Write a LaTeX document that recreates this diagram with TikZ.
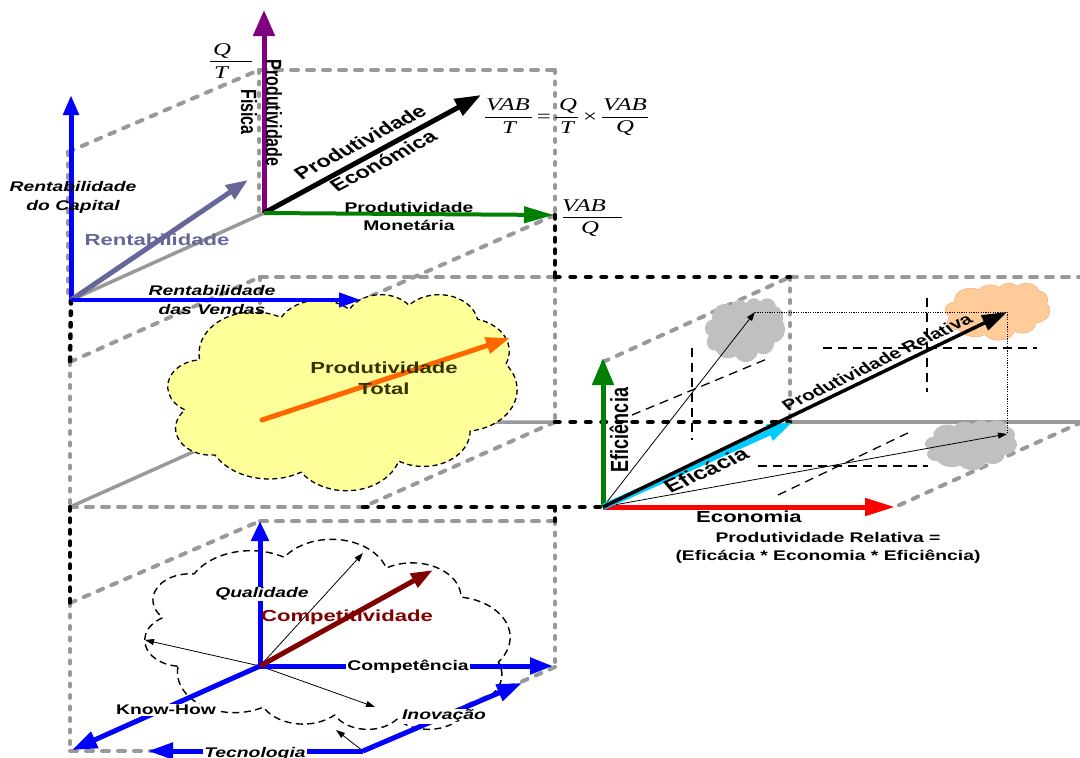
\documentclass[tikz,border=0pt]{standalone}
\usepackage{fontspec}
\setmainfont{Liberation Sans}
\newfontfamily\tnr{Liberation Serif}
\usetikzlibrary{arrows.meta}
\definecolor{gry}{RGB}{153,153,153}
\definecolor{pur}{RGB}{128,0,128}
\definecolor{blu}{RGB}{0,0,255}
\definecolor{slate}{RGB}{102,102,153}
\definecolor{grn}{RGB}{0,128,0}
\definecolor{org}{RGB}{255,102,0}
\definecolor{ylw}{RGB}{255,255,153}
\definecolor{olive}{RGB}{51,51,0}
\definecolor{rd}{RGB}{255,0,0}
\definecolor{cyn}{RGB}{0,204,255}
\definecolor{dred}{RGB}{128,0,0}
\definecolor{silv}{RGB}{192,192,192}
\definecolor{peach}{RGB}{255,204,153}
\definecolor{peachline}{RGB}{240,180,130}
% PowerPoint cloud: arcs with visual angles converted to parametric ones
\newcommand\cldarc[5]{%
  \pgfmathsetmacro\cldtmpa{atan2((#2)*sin(#4),(#3)*cos(#4))}%
  \pgfmathsetmacro\cldtmpb{atan2((#2)*sin((#4)+(#5)),(#3)*cos((#4)+(#5)))}%
  \pgfmathsetmacro\cldtmpd{mod(\cldtmpb-(\cldtmpa)+720,360)}%
  \expandafter\xdef\csname cldS#1\endcsname{\cldtmpa}%
  \expandafter\xdef\csname cldD#1\endcsname{\cldtmpd}%
}
\cldarc{a}{6.753}{9.190}{-190.4875}{123.7805}
\cldarc{b}{5.333}{7.267}{-144.1024}{89.9452}
\cldarc{c}{4.365}{5.945}{-145.8079}{99.7230}
\cldarc{d}{4.857}{6.595}{-130.9861}{117.2417}
\cldarc{e}{5.333}{7.273}{-78.7089}{109.0269}
\cldarc{f}{6.775}{9.220}{-46.2673}{130.2690}
\cldarc{g}{5.785}{7.867}{0.6250}{114.0333}
\cldarc{h}{6.752}{9.215}{22.4516}{115.1726}
\cldarc{i}{7.720}{10.543}{66.2426}{75.7110}
\cldarc{j}{4.360}{5.918}{-274.9421}{146.7356}
\cldarc{k}{4.345}{5.945}{-246.8285}{152.5189}
\newcommand\cloudbody[1]{\path[#1] (3.9,14.37)
  arc[x radius=6.753,y radius=9.19,start angle=\cldSa,delta angle=\cldDa]
  arc[x radius=5.333,y radius=7.267,start angle=\cldSb,delta angle=\cldDb]
  arc[x radius=4.365,y radius=5.945,start angle=\cldSc,delta angle=\cldDc]
  arc[x radius=4.857,y radius=6.595,start angle=\cldSd,delta angle=\cldDd]
  arc[x radius=5.333,y radius=7.273,start angle=\cldSe,delta angle=\cldDe]
  arc[x radius=6.775,y radius=9.22,start angle=\cldSf,delta angle=\cldDf]
  arc[x radius=5.785,y radius=7.867,start angle=\cldSg,delta angle=\cldDg]
  arc[x radius=6.752,y radius=9.215,start angle=\cldSh,delta angle=\cldDh]
  arc[x radius=7.72,y radius=10.543,start angle=\cldSi,delta angle=\cldDi]
  arc[x radius=4.36,y radius=5.918,start angle=\cldSj,delta angle=\cldDj]
  arc[x radius=4.345,y radius=5.945,start angle=\cldSk,delta angle=\cldDk]
  -- cycle;}
\newcommand\ppcloud[5]{\begin{scope}[shift={(#2,#3)},xscale=#4/43.2,yscale=#5/43.2]\cloudbody{#1}\end{scope}}
\newcommand\ppcloudv[5]{\begin{scope}[shift={(#2,#3+#5)},xscale=#4/43.2,yscale=-#5/43.2]\cloudbody{#1}\end{scope}}

\begin{document}
\begin{tikzpicture}[x=1pt,y=-1pt,line join=round,
  gd/.style={gry,line width=4pt,line cap=round,dash pattern=on 7pt off 9pt},
  gdv/.style={gry,line width=4pt,line cap=round,dash pattern=on 3pt off 8.5pt},
  gdd/.style={gry,line width=4pt,line cap=round,dash pattern=on 6pt off 9pt},
  gs/.style={gry,line width=3.5pt},
  bd/.style={black,line width=4.5pt,line cap=round,dash pattern=on 4.5pt off 11pt},
  bdv/.style={black,line width=4.5pt,line cap=round,dash pattern=on 3.5pt off 8pt},
  thd/.style={black,line width=1.3pt,dash pattern=on 9pt off 6pt},
  thdot/.style={black,line width=1pt,dash pattern=on 1.2pt off 1.2pt},
  tri/.style 2 args={-{Triangle[length=#1,width=#2]}},
  thin/.style={black,line width=0.8pt,-{Triangle[length=9pt,width=6pt]}},
  s14/.style={font=\fontsize{14}{18}\selectfont\bfseries,xscale=1.38,inner sep=1pt,align=center},
  i14/.style={font=\fontsize{14}{19}\selectfont\bfseries\itshape,xscale=1.38,inner sep=1pt,align=center},
  s15/.style={font=\fontsize{15}{19}\selectfont\bfseries,xscale=1.38,inner sep=1pt,align=center},
  s16/.style={font=\fontsize{16}{22}\selectfont\bfseries,xscale=1.38,inner sep=1pt,align=center},
  s17/.style={font=\fontsize{17}{20}\selectfont\bfseries,xscale=1.38,inner sep=1pt,align=center},
  s18/.style={font=\fontsize{18}{21}\selectfont\bfseries,xscale=1.38,inner sep=1pt,align=center},
  fr/.style={font=\tnr\itshape\fontsize{18}{20}\selectfont,xscale=1.38,inner sep=0pt},
  fu/.style={font=\tnr\fontsize{18}{20}\selectfont,xscale=1.38,inner sep=0pt},
  wbox/.style={fill=white}]
\useasboundingbox (0,0) rectangle (1080,758);
% ---------- corner coordinates ----------
\coordinate (U1) at (71,300);
\coordinate (U2) at (264,213);
\coordinate (U3) at (68,152);
\coordinate (U4) at (259,70);
\coordinate (U4b) at (259,213);
\coordinate (U5) at (555,70);
\coordinate (U6) at (555,215);
\coordinate (U7) at (362,300);
\coordinate (M1) at (70,362);
\coordinate (M2) at (260,277);
\coordinate (M3) at (555,277);
\coordinate (M4) at (555,422);
\coordinate (M5) at (260,422);
\coordinate (M6) at (70,507);
\coordinate (M7) at (363,507);
\coordinate (M8) at (555,507);
\coordinate (L1) at (70,603);
\coordinate (L2) at (260,521);
\coordinate (L3) at (555,521);
\coordinate (L4) at (555,667);
\coordinate (L5) at (363,751);
\coordinate (L6) at (70,751);
\coordinate (LO) at (260,666);
\coordinate (R0) at (603,507);
\coordinate (R1) at (603,362);
\coordinate (R2) at (790,277);
\coordinate (R3) at (1082,277);
\coordinate (R4) at (790,422);
\coordinate (R5) at (1082,422);
\coordinate (R6) at (895,507);
% arrow tips
\coordinate (tPF) at (264,10);
\coordinate (tPE) at (481,95);
\coordinate (tPM) at (554,215);
\coordinate (tRC) at (71,95);
\coordinate (tR) at (248,180);
\coordinate (tRV) at (361,300);
\coordinate (PTo) at (262,420);
\coordinate (tPT) at (510,338);
\coordinate (tEf) at (603,358);
\coordinate (tEc) at (895,507);
\coordinate (tEa) at (793,422);
\coordinate (tPR) at (1007,312);
\coordinate (tA) at (755,312);
\coordinate (tB) at (1007,434);
\coordinate (tQ) at (260,521);
\coordinate (tC) at (553,666);
\coordinate (tK) at (72,750);
\coordinate (tT) at (148,751);
\coordinate (tI) at (522,683);
\coordinate (tCo) at (433,570);
\coordinate (c1) at (363,553);
\coordinate (c2) at (145,640);
\coordinate (c3) at (375,707);
\coordinate (c4) at (336,730);
% ---------- gray box lines ----------
\draw[gdv] (U3) -- (68,300);
\draw[gdd] (U3) -- (U4);
\draw[gd] (U4) -- (U5);
\draw[gdv] (U5) -- (U6);
\draw[gdv] (U4) -- (U4b);
\draw[gs] (U1) -- (U2);
\draw[gdd] (U6) -- (U7);
\draw[gdv] (M1) -- (M6);
\draw[gdd] (M1) -- (M2);
\draw[gd] (M2) -- (M3);
\draw[gdv] (M2) -- (M5);
\draw[gdv] (M3) -- (M4);
\draw[gs] (M6) -- (M5) -- (M4);
\draw[gd] (M6) -- (M7);
\draw[gdd] (M4) -- (M7);
\draw[gd] (R2) -- (R3);
\draw[gdv] (L1) -- (L6);
\draw[gdd] (L1) -- (L2);
\draw[gd] (L2) -- (L3);
\draw[gdv] (L3) -- (L4);
\draw[gdd] (L4) -- (L5);
\draw[gd] (L6) -- (L5);
\draw[gdd] (R1) -- (R2);
\draw[gdv] (R2) -- (R4);
\draw[gs] (R4) -- (R5);
\draw[gdd] (R5) -- (R6);
% ---------- black dotted links ----------
\draw[bdv] (U6) -- (M3);
\draw[bdv] (U1) -- (M1);
\draw[bd] (M3) -- (R2);
\draw[bd] (M4) -- (R4);
\draw[bd] (M7) -- (R0);
\draw[bdv] (M6) -- (L1);
\draw[bdv] (M8) -- (L3);
% ---------- clouds ----------
\ppcloud{fill=ylw,draw=black,line width=1.3pt,dash pattern=on 5pt off 3.5pt}{168}{294}{349}{196}
\ppcloudv{draw=black,line width=1.4pt,dash pattern=on 7pt off 4.5pt}{145}{540}{365}{190}
\ppcloud{fill=silv}{705}{298}{80}{64}
\ppcloud{fill=peach,draw=peachline,line width=0.6pt}{945}{283}{105}{57}
\ppcloud{fill=silv}{925}{420}{92}{50}
% ---------- right thin lines ----------
\coordinate (d1a) at (692,348); \coordinate (d1b) at (692,440);
\coordinate (d2a) at (632,415); \coordinate (d2b) at (767,359);
\coordinate (d3a) at (758,466); \coordinate (d3b) at (928,466);
\coordinate (d4a) at (778,495); \coordinate (d4b) at (912,431);
\coordinate (d5a) at (927,298); \coordinate (d5b) at (927,392);
\coordinate (d6a) at (823,348); \coordinate (d6b) at (1037,348);
\draw[thd] (d1a) -- (d1b);
\draw[thd] (d2a) -- (d2b);
\draw[thd] (d3a) -- (d3b);
\draw[thd] (d4a) -- (d4b);
\draw[thd] (d5a) -- (d5b);
\draw[thd] (d6a) -- (d6b);
\draw[thdot] (tA) -- (tPR) -- (tB);
\draw[thin] (R0) -- (tA);
\draw[thin] (R0) -- (tB);
% ---------- upper arrows ----------
\draw[pur,line width=5pt,tri={26pt}{21pt}] (U2) -- (tPF);
\draw[black,line width=5pt,tri={26pt}{18pt}] (U2) -- (tPE);
\draw[grn,line width=4pt,tri={30pt}{16pt}] (U2) -- (tPM);
\draw[blu,line width=5pt,tri={20pt}{15pt}] (U1) -- (tRC);
\draw[slate,line width=5pt,tri={22pt}{16pt}] (U1) -- (tR);
\draw[blu,line width=4pt,tri={22pt}{14pt}] (U1) -- (tRV);
\draw[org,line width=5pt,line cap=round,tri={24pt}{16pt}] (PTo) -- (tPT);
% ---------- right arrows ----------
\draw[grn,line width=5pt,tri={27pt}{21pt}] (R0) -- (tEf);
\draw[rd,line width=5pt,tri={30pt}{17pt}] (R0) -- (tEc);
\draw[cyn,line width=6pt,tri={26pt}{16pt}] (R0) -- (tEa);
\draw[black,line width=3.5pt,tri={25pt}{16pt}] (R0) -- (tPR);
% ---------- lower arrows ----------
\draw[thin] (LO) -- (c1);
\draw[thin] (LO) -- (c2);
\draw[thin] (LO) -- (c3);
\draw[thin] (L5) -- (c4);
\draw[blu,line width=5pt,tri={20pt}{17pt}] (LO) -- (tQ);
\draw[blu,line width=5pt,tri={23pt}{16pt}] (LO) -- (tC);
\draw[blu,line width=5pt,tri={25pt}{17pt}] (LO) -- (tK);
\draw[blu,line width=5pt,tri={25pt}{16pt}] (L5) -- (tT);
\draw[blu,line width=5pt,tri={25pt}{17pt}] (L5) -- (tI);
\draw[dred,line width=5pt,tri={22pt}{15pt}] (LO) -- (tCo);
% ---------- fractions ----------
\node[fr] (fq1) at (222,51) {Q};
\node[fr] (ft1) at (221,73) {T};
\draw[line width=0.8pt] (210,61) -- (252,61);
\node[fr] (fa1) at (508,105) {VAB};
\node[fr] (fa2) at (509,128) {T};
\draw[line width=0.8pt] (485,117) -- (532,117);
\node[fu] (feq) at (544,118) {=};
\node[fr] (fb1) at (568,106) {Q};
\node[fr] (fb2) at (567,128) {T};
\draw[line width=0.8pt] (555,117) -- (578,117);
\node[fu] (fx) at (590,118) {×};
\node[fr] (fc1) at (625,105) {VAB};
\node[fr] (fc2) at (625,128) {Q};
\draw[line width=0.8pt] (602,117) -- (648,117);
\node[fr] (fd1) at (584,206) {VAB};
\node[fr] (fd2) at (590,229) {Q};
\draw[line width=0.8pt] (563,217) -- (622,217);
% ---------- labels ----------
\node[s16,rotate=-90] (lpf1) at (274,113) {Produtividade};
\node[s16,rotate=-90] (lpf2) at (249,112) {Fisica};
\node[s17,rotate=36] (lpe1) at (360,142) {Produtividade};
\node[s17,rotate=36] (lpe2) at (383,161) {Económica};
\node[s14] (lpm) at (409,216) {Produtividade\\Monetária};
\node[i14] (lrc) at (73,197) {Rentabilidade\\do Capital};
\node[s16,text=slate] (lr) at (157,240) {Rentabilidade};
\node[i14] (lrv) at (212,300) {Rentabilidade\\das Vendas};
\node[s16,text=olive,font=\fontsize{16}{21}\selectfont\bfseries] (lpt) at (384,378) {Produtividade\\Total};
\node[s18,rotate=90] (lef) at (619,430) {Eficiência};
\node[s18,rotate=31.6] (lea) at (706,470) {Eficácia};
\node[s15,rotate=33.6] (lpr) at (877,362) {Produtividade Relativa};
\node[s16] (lec) at (749,517) {Economia};
\node[s14] (lform) at (828,548) {Produtividade Relativa =\\(Eficácia * Economia * Eficiência)};
\node[i14,wbox] (lq) at (262,594) {Qualidade};
\node[s16,text=dred] (lco) at (347,617) {Competitividade};
\node[s14,wbox] (lcp) at (408,667) {Competência};
\node[s14,wbox] (lkh) at (166,710) {Know-How};
\node[i14,wbox] (lin) at (444,716) {Inovação};
\node[i14,wbox] (lte) at (255,754) {Tecnologia};
\end{tikzpicture}
\end{document}
